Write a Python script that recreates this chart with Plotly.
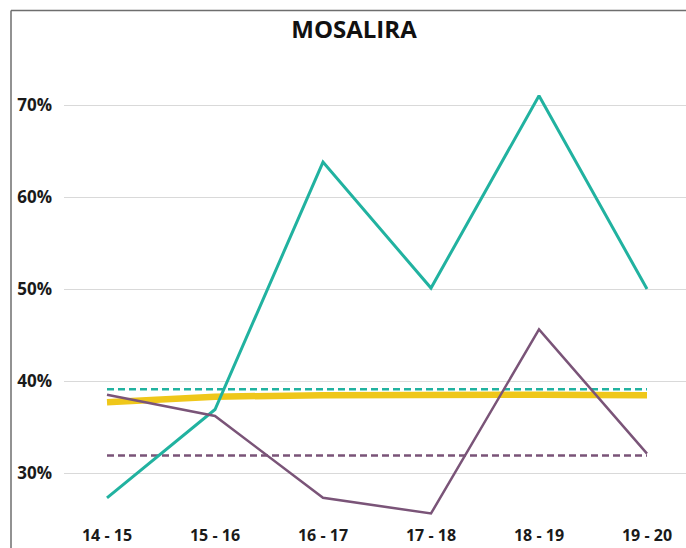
import plotly.graph_objects as go

categories = ["14 - 15", "15 - 16", "16 - 17", "17 - 18", "18 - 19", "19 - 20"]
teal_values = [27.3, 36.9, 63.8, 50.1, 71.0, 50.0]
purple_values = [38.5, 36.2, 27.3, 25.6, 45.6, 32.1]
yellow_values = [37.7, 38.3, 38.45, 38.55, 38.5, 38.45]
teal_ref = [39.1] * 6
purple_ref = [31.9] * 6
y_ticks = [30, 40, 50, 60, 70]
y_tick_labels = ["30%", "40%", "50%", "60%", "70%"]

TEAL = "#21b2a0"
PURPLE = "#7a5478"
YELLOW = "#efc71a"

fig = go.Figure()
fig.add_trace(go.Scatter(x=categories, y=yellow_values, mode="lines",
                         line=dict(color=YELLOW, width=6.5), name="Media"))
fig.add_trace(go.Scatter(x=categories, y=teal_ref, mode="lines",
                         line=dict(color=TEAL, width=2.5, dash="7px,4px"), name="Ref 1"))
fig.add_trace(go.Scatter(x=categories, y=purple_ref, mode="lines",
                         line=dict(color=PURPLE, width=2.5, dash="7px,4px"), name="Ref 2"))
fig.add_trace(go.Scatter(x=categories, y=teal_values, mode="lines",
                         line=dict(color=TEAL, width=3), name="Serie 1"))
fig.add_trace(go.Scatter(x=categories, y=purple_values, mode="lines",
                         line=dict(color=PURPLE, width=2.5), name="Serie 2"))

W, H = 686, 548
L, R, T, B = 64, 0, 59, 29
pw, ph = W - L - R, H - T - B
bx = (11 - L) / pw
by = 1 + (T - 10.5) / ph

fig.update_layout(
    width=W, height=H,
    margin=dict(l=L, r=R, t=T, b=B, pad=0),
    paper_bgcolor="white", plot_bgcolor="white",
    showlegend=False,
    font=dict(family="Open Sans", color="#1a1a1a"),
    title=dict(text="MOSALIRA", x=354 / W, xanchor="center", xref="container",
               y=1 - 29.5 / H, yanchor="middle", yref="container",
               font=dict(family="Open Sans", size=24, weight="bold", color="#111111")),
    xaxis=dict(type="category", range=[-(107 - L) / 108, -(107 - L) / 108 + pw / 108],
               showgrid=False, zeroline=False, showline=False, ticks="",
               ticklabelstandoff=5,
               tickfont=dict(family="Open Sans", size=16, weight="bold", color="#1a1a1a")),
    yaxis=dict(range=[25, 75], tickvals=y_ticks, ticktext=y_tick_labels,
               showgrid=True, gridcolor="#d9d9d9", gridwidth=1, zeroline=False,
               showline=False, ticks="", ticklabelstandoff=11,
               tickfont=dict(family="Open Sans", size=17, weight="bold", color="#1a1a1a")),
    shapes=[
        dict(type="line", xref="paper", yref="paper", x0=bx, x1=1.1, y0=by, y1=by,
             line=dict(color="#6e6e6e", width=1.5)),
        dict(type="line", xref="paper", yref="paper", x0=bx, x1=bx, y0=by, y1=-0.2,
             line=dict(color="#6e6e6e", width=1.5)),
    ],
)

fig.write_html("out.html", config={"displayModeBar": False},
               post_script="document.body.style.margin='0';document.body.style.overflow='hidden';")
